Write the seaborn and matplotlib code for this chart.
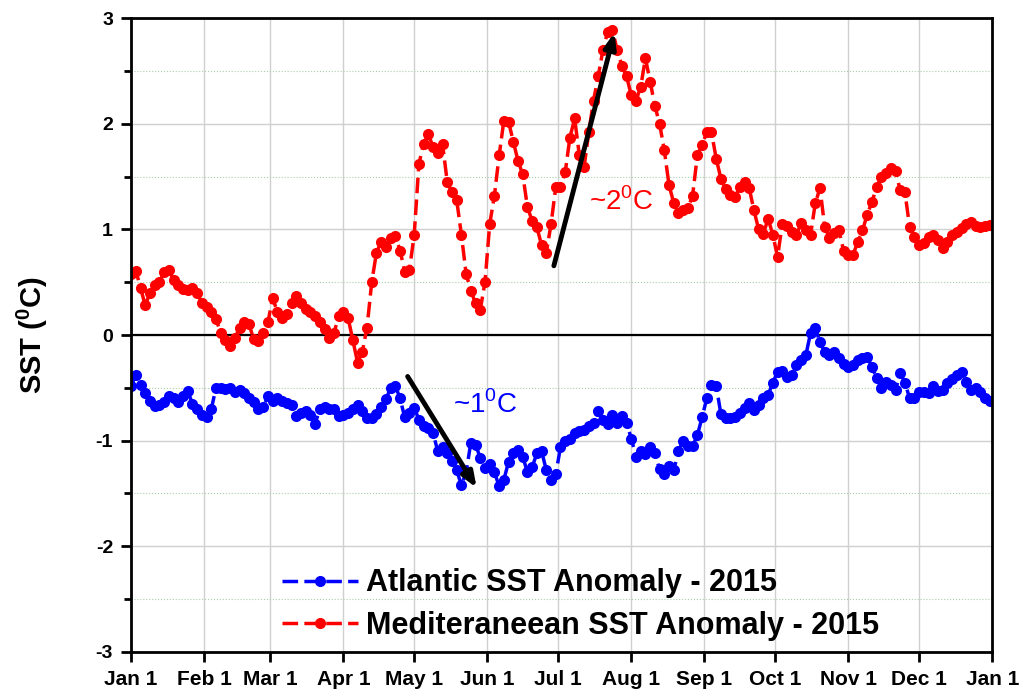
import pandas as pd
import numpy as np
import matplotlib
matplotlib.use("Agg")
import matplotlib.pyplot as plt
import matplotlib.dates as mdates
from matplotlib.ticker import MultipleLocator
import seaborn as sns

# Dane: anomalie SST co 2 dni
dates = pd.date_range("2015-01-01", "2015-12-31", freq="2D")

med_sst = [
    0.58, 0.61, 0.45, 0.28, 0.40, 0.47, 0.50, 0.60, 0.62, 0.52, 0.47, 0.44, 0.43, 0.45, 0.40, 0.30,
    0.27, 0.22, 0.15, 0.02, -0.05, -0.10, -0.03, 0.07, 0.12, 0.10, -0.04, -0.06, 0.02, 0.12,
    0.35, 0.22, 0.16, 0.20, 0.30, 0.37, 0.30, 0.25, 0.22, 0.18, 0.12, 0.06, -0.03, 0.02, 0.18,
    0.22, 0.16, -0.05, -0.26, -0.16, 0.07, 0.50, 0.78, 0.88, 0.83, 0.92, 0.94, 0.80, 0.60, 0.62,
    0.95, 1.62, 1.81, 1.90, 1.78, 1.72, 1.81, 1.45, 1.35, 1.28, 0.95, 0.58, 0.42, 0.30, 0.24,
    0.50, 1.05, 1.32, 1.70, 2.03, 2.02, 1.83, 1.65, 1.52, 1.21, 1.08, 1.02, 0.85, 0.78, 1.05,
    1.40, 1.40, 1.54, 1.87, 2.05, 1.70, 1.59, 1.92, 2.22, 2.45, 2.70, 2.87, 2.89, 2.70, 2.55, 2.45,
    2.27, 2.22, 2.35, 2.62, 2.40, 2.17, 2.00, 1.75, 1.42, 1.25, 1.16, 1.18, 1.20, 1.32, 1.70,
    1.80, 1.92, 1.92, 1.67, 1.48, 1.38, 1.33, 1.31, 1.40, 1.45, 1.39, 1.18, 1.00, 0.96, 1.10,
    0.95, 0.74, 1.05, 1.03, 0.98, 0.95, 1.06, 0.99, 0.95, 1.25, 1.39, 1.02, 0.92, 0.97, 0.99, 0.80,
    0.76, 0.76, 0.88, 0.99, 1.14, 1.26, 1.40, 1.50, 1.53, 1.58, 1.55, 1.37, 1.35, 1.02, 0.93,
    0.85, 0.87, 0.93, 0.95, 0.90, 0.82, 0.88, 0.95, 0.98, 1.01, 1.05, 1.07, 1.03, 1.02, 1.03, 1.04,
]

atl_sst = [
    -0.48, -0.38, -0.47, -0.55, -0.62, -0.67, -0.66, -0.63, -0.58, -0.60, -0.63, -0.58, -0.53, -0.65, -0.70, -0.76,
    -0.78, -0.70, -0.50, -0.50, -0.51, -0.50, -0.54, -0.52, -0.55, -0.60, -0.63, -0.70, -0.68, -0.58,
    -0.62, -0.60, -0.62, -0.64, -0.66, -0.77, -0.74, -0.72, -0.76, -0.84, -0.70, -0.68, -0.70, -0.70, -0.77,
    -0.76, -0.74, -0.70, -0.66, -0.72, -0.79, -0.79, -0.75, -0.68, -0.61, -0.50, -0.48, -0.60, -0.78, -0.74,
    -0.69, -0.80, -0.86, -0.88, -0.93, -1.10, -1.06, -1.12, -1.19, -1.28, -1.42, -1.30, -1.02, -1.04, -1.16,
    -1.26, -1.22, -1.30, -1.43, -1.37, -1.20, -1.12, -1.09, -1.15, -1.30, -1.25, -1.12, -1.10, -1.28, -1.37,
    -1.32, -1.06, -1.00, -0.98, -0.93, -0.91, -0.90, -0.86, -0.83, -0.72, -0.80, -0.84, -0.76, -0.83, -0.77, -0.83,
    -0.98, -1.15, -1.10, -1.13, -1.06, -1.12, -1.27, -1.32, -1.24, -1.28, -1.10, -1.00, -1.05, -1.05, -0.95,
    -0.78, -0.60, -0.47, -0.48, -0.75, -0.79, -0.79, -0.78, -0.74, -0.69, -0.64, -0.71, -0.66, -0.60, -0.57,
    -0.45, -0.35, -0.34, -0.40, -0.38, -0.28, -0.24, -0.19, 0.02, 0.07, -0.07, -0.16, -0.19, -0.16, -0.22, -0.27,
    -0.30, -0.28, -0.24, -0.22, -0.21, -0.30, -0.41, -0.50, -0.44, -0.47, -0.52, -0.36, -0.45, -0.60, -0.60,
    -0.54, -0.54, -0.55, -0.48, -0.53, -0.52, -0.45, -0.42, -0.38, -0.35, -0.44, -0.52, -0.50, -0.54, -0.60, -0.62,
]

month_ticks = pd.date_range("2015-01-01", "2016-01-01", freq="MS")
month_labels = ["Jan 1", "Feb 1", "Mar 1", "Apr 1", "May 1", "Jun 1", "Jul 1",
                "Aug 1", "Sep 1", "Oct 1", "Nov 1", "Dec 1", "Jan 1"]
y_ticks = [-3, -2, -1, 0, 1, 2, 3]

sns.set_style("white")
plt.rcParams["font.family"] = ["Liberation Sans", "DejaVu Sans"]
plt.rcParams["text.color"] = "black"
plt.rcParams["xtick.color"] = "black"
plt.rcParams["ytick.color"] = "black"
plt.rcParams["axes.labelcolor"] = "black"
plt.rcParams["mathtext.fontset"] = "custom"
plt.rcParams["mathtext.rm"] = "Liberation Sans"
plt.rcParams["mathtext.bf"] = "Liberation Sans:bold"

fig = plt.figure(figsize=(10.24, 6.98), dpi=100)
ax = fig.add_axes([0.128, 0.066, 0.841, 0.908])

df = pd.DataFrame({"date": dates, "atl": atl_sst, "med": med_sst})

sns.lineplot(data=df, x="date", y="atl", ax=ax, color="#0000ff", marker="o",
             markersize=8, markeredgewidth=0, lw=2.5, ls="--",
             label="Atlantic SST Anomaly - 2015")
sns.lineplot(data=df, x="date", y="med", ax=ax, color="#ff0000", marker="o",
             markersize=8, markeredgewidth=0, lw=2.5, ls="--",
             label="Mediteraneean SST Anomaly - 2015")
for line in ax.get_lines():
    line.set_dashes((4.5, 1.8))

ax.axhline(0, color="black", lw=1.6, zorder=1)

ax.set_xlim(month_ticks[0], month_ticks[-1])
ax.set_ylim(-3, 3)
ax.set_xticks(month_ticks)
ax.set_xticklabels(month_labels, fontsize=15, fontweight="bold")
ax.set_yticks(y_ticks)
ax.set_yticklabels([str(v) for v in y_ticks], fontsize=14, fontweight="bold")
ax.yaxis.set_minor_locator(MultipleLocator(0.5))

ax.grid(which="major", color="#d0d0d0", lw=1)
ax.grid(which="minor", axis="y", color="#a8d0a8", ls=":", lw=0.8)
ax.set_axisbelow(True)

ax.tick_params(axis="both", which="major", direction="out", length=7, width=2,
               color="black", left=True, bottom=True, pad=6)
ax.tick_params(axis="y", which="minor", direction="out", length=5, width=2, left=True)
for s in ax.spines.values():
    s.set_color("black")
    s.set_linewidth(2)

ax.set_xlabel("")
ax.set_ylabel(r"SST ($^{\mathbf{0}}$C)", fontsize=21, fontweight="bold", labelpad=33)

# Strzalki i opisy
d0 = mdates.date2num(pd.Timestamp("2015-01-01"))
ax.annotate("", xy=(d0 + 205.2, 2.89), xytext=(d0 + 178.9, 0.63),
            arrowprops=dict(arrowstyle="-|>,head_length=0.9,head_width=0.35",
                            color="black", lw=3.5))
ax.annotate("", xy=(d0 + 147.1, -1.47), xytext=(d0 + 116.6, -0.37),
            arrowprops=dict(arrowstyle="-|>,head_length=0.9,head_width=0.35",
                            color="black", lw=3.5))
ax.text(d0 + 207.8, 1.26, r"~2$^{0}$C", color="#ff0000", fontsize=20,
        ha="center", va="center")
ax.text(d0 + 150.0, -0.66, r"~1$^{0}$C", color="#0000ff", fontsize=20,
        ha="center", va="center")

ax.legend(loc="center", bbox_to_anchor=(0.522, 0.075), frameon=False,
          prop={"size": 22, "weight": "bold"}, handlelength=2.5,
          handletextpad=0.25, labelspacing=0.4, numpoints=1)

fig.savefig("out.png", dpi=100)
